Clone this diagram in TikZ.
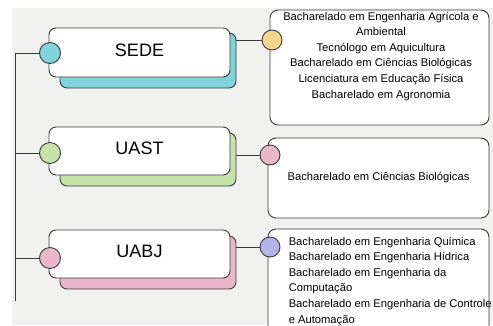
\documentclass[tikz,border=0pt]{standalone}
\usepackage{fontspec}
\setmainfont{Liberation Sans}
\usetikzlibrary{positioning}

\definecolor{fundo}{HTML}{F1F1EF}
\definecolor{linha}{HTML}{3A3A3A}
\definecolor{ciano}{HTML}{80D4DC}
\definecolor{verde}{HTML}{C6E2A8}
\definecolor{rosa}{HTML}{EAB6C9}
\definecolor{amarelo}{HTML}{F4D68C}
\definecolor{lilas}{HTML}{B6B3EC}

\begin{document}
\begin{tikzpicture}[x=1pt,y=-1pt,
    fio/.style={draw=linha, line width=0.9pt},
    campus/.style={draw=linha, fill=white, line width=0.9pt, rounded corners=7pt,
      minimum width=181pt, minimum height=48pt, text height=13pt, text depth=6pt,
      font=\fontsize{18}{20}\selectfont},
    sombra/.style={draw=linha, fill=#1, line width=0.9pt, rounded corners=7pt,
      minimum width=176pt, minimum height=53pt},
    ponto/.style={circle, draw=linha, fill=#1, line width=0.9pt, minimum size=21pt, inner sep=0pt},
    cursos/.style={draw=linha, fill=white, line width=0.9pt, rounded corners=8pt,
      minimum width=221pt, font=\fontsize{11.2}{15.6}\selectfont},
    lista/.style={inner sep=0pt, font=\fontsize{11.2}{15.6}\selectfont}]
  \useasboundingbox (0,0) rectangle (493,325);
  \fill[fundo] (12,8) rectangle (493,325);

  % campi
  \node[sombra=ciano] (sedeSombra) at (148,60.5) [minimum height=55pt] {};
  \node[campus] (sede) at (139.5,52.5) [minimum height=49pt] {SEDE};
  \node[sombra=verde] (uastSombra) at (148,159.5) {};
  \node[campus] (uast) at (139.5,151) {UAST};
  \node[sombra=rosa] (uabjSombra) at (148,262.5) {};
  \node[campus] (uabj) at (139.5,254) {UABJ};

  % listas de cursos
  \node[cursos, minimum width=219pt, minimum height=115pt] (cursosSede) at (379.5,67.5) {};
  \node[lista, align=center, below=2pt of cursosSede.north, xshift=1.5pt] (textoSede) {%
    Bacharelado em Engenharia Agrícola e\\ Ambiental\\ Tecnólogo em Aquicultura\\
    Bacharelado em Ciências Biológicas\\ Licenciatura em Educação Física\\
    Bacharelado em Agronomia};
  \node[cursos, minimum height=80pt] (cursosUast) at (378.5,178) {Bacharelado em Ciências Biológicas};
  \node[cursos, minimum height=111pt] (cursosUabj) at (378.5,284.5) {};
  \node[lista, align=left, below right=8pt and 21pt of cursosUabj.north west] (textoUabj) {%
    Bacharelado em Engenharia Química\\ Bacharelado em Engenharia Hídrica\\
    Bacharelado em Engenharia da\\ Computação\\
    Bacharelado em Engenharia de Controle\\ e Automação};

  % pontos de ligacao
  \node[ponto=ciano] (pSede) at (50,53) {};
  \node[ponto=verde] (pUast) at (50,153) {};
  \node[ponto=rosa] (pUabj) at (50,258) {};
  \node[ponto=amarelo, minimum size=20pt] (qSede) at (272,40) {};
  \node[ponto=rosa, minimum size=20pt] (qUast) at (270,155) {};
  \node[ponto=lilas, minimum size=20pt] (qUabj) at (270,247) {};

  % conectores
  \coordinate (tronco) at (15,301);
  \draw[fio] (pSede.west) -| (tronco);
  \draw[fio] (pUast.west) -- (pUast -| tronco);
  \draw[fio] (pUabj.west) -- (pUabj -| tronco);
  \draw[fio] (qSede -| sedeSombra.east) -- (qSede.west);
  \draw[fio] (qUast -| uastSombra.east) -- (qUast.west);
  \draw[fio] (qUabj -| uabjSombra.east) -- (qUabj.west);
\end{tikzpicture}
\end{document}
